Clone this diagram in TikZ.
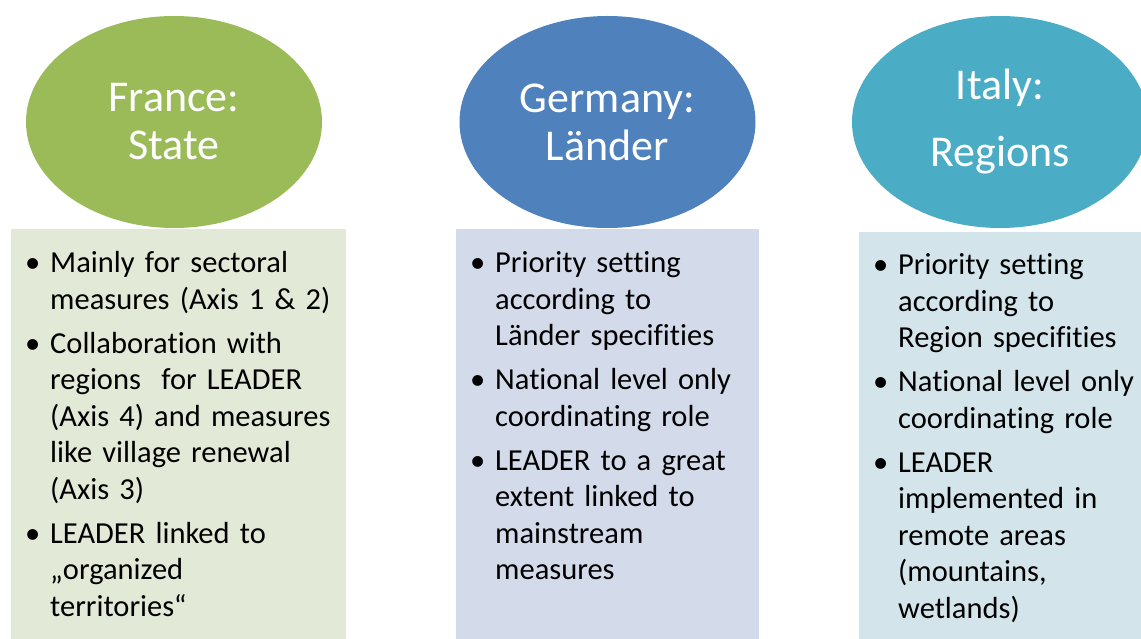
\documentclass[tikz,border=0pt]{standalone}
\usepackage{fontspec}
\setmainfont{Carlito}[Ligatures=NoCommon]
\usetikzlibrary{shapes.geometric,positioning}
\definecolor{frdark}{HTML}{9BBB59}
\definecolor{frlight}{HTML}{E2EAD7}
\definecolor{dedark}{HTML}{4F81BD}
\definecolor{delight}{HTML}{D3DAE9}
\definecolor{itdark}{HTML}{4BACC6}
\definecolor{itlight}{HTML}{D3E4EB}
\newcommand{\itm}{\par\noindent\hangindent=25pt\hangafter=1\makebox[25pt][l]{\textbullet}}
\newcommand{\gap}{\par\vspace{7.5pt}}
\begin{document}
\begin{tikzpicture}[x=1pt,y=-1pt,
	oval/.style={ellipse,inner sep=0pt,minimum width=296pt,minimum height=212pt,text=white,align=center,font=\fontsize{44}{48}\selectfont},
	panel/.style={rectangle,inner sep=0pt,anchor=north west,minimum height=420pt},
	bullets/.style={anchor=north west,inner sep=0pt,align=left,font=\fontsize{30.5}{36.5}\selectfont}]
	\useasboundingbox (0,0) rectangle (1141,639);
	\node[panel,fill=frlight,minimum width=335pt] (frbox) at (11,229) {};
	\node[panel,fill=delight,minimum width=303pt] (debox) at (456,229) {};
	\node[panel,fill=itlight,minimum width=300pt] (itbox) at (859,232) {};
	\node[oval,fill=frdark] (france) at (174,122) {France:\\State};
	\node[oval,fill=dedark] (germany) at (607.5,122) {Germany:\\Länder};
	\node[oval,fill=itdark,font=\fontsize{44}{67}\selectfont] (italy) at (1000,122) {Italy:\\Regions};
	\node[bullets,text width=320pt] (frtext) at (25,236) {%
		\itm\rule{0pt}{24pt}Mainly for sectoral\newline measures (Axis 1 \& 2)
		\gap\itm Collaboration with\newline regions~ for LEADER\newline (Axis 4) and measures\newline like village renewal\newline (Axis 3)
		\gap\itm LEADER linked to\newline „organized\newline territories“\par};
	\node[bullets,text width=290pt] (detext) at (470,236) {%
		\itm\rule{0pt}{24pt}Priority setting\newline according to\newline Länder specifities
		\gap\itm National level only\newline coordinating role
		\gap\itm LEADER to a great\newline extent linked to\newline mainstream\newline measures\par};
	\node[bullets,text width=300pt] (ittext) at (873,238) {%
		\itm\rule{0pt}{24pt}Priority setting\newline according to\newline Region specifities
		\gap\itm National level only\newline coordinating role
		\gap\itm LEADER\newline implemented in\newline remote areas\newline (mountains,\newline wetlands)\par};
\end{tikzpicture}
\end{document}
